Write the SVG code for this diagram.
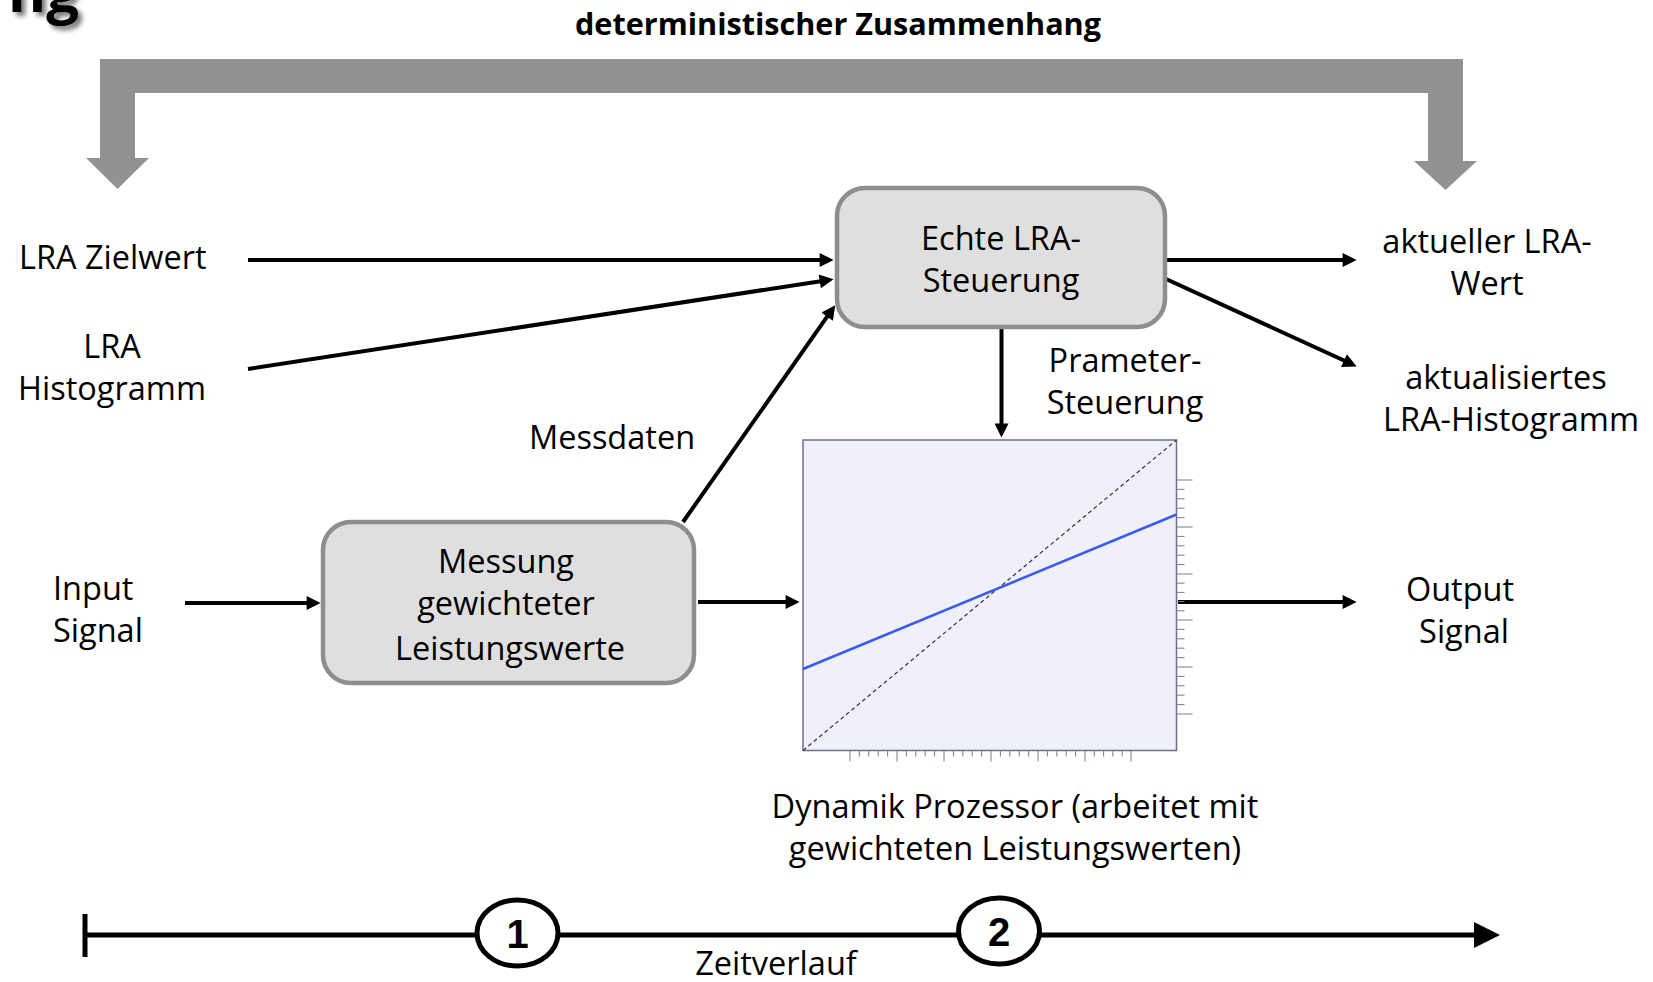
<svg xmlns="http://www.w3.org/2000/svg" width="1653" height="982" viewBox="0 0 1653 982">
<defs>
<style>
.t{font-family:"Open Sans","Noto Sans","DejaVu Sans",sans-serif;font-size:32.5px;fill:#000;text-anchor:middle}
.s{text-anchor:start}
.b{font-weight:bold}
.box{fill:#dfdfdf;stroke:#8e8e8e;stroke-width:4.5}
.c{stroke:#000;stroke-width:4;fill:none;marker-end:url(#ah)}
.tk{stroke:#7a7a9a;stroke-width:1}
.num{font-family:"Liberation Sans",Arial,sans-serif;font-weight:bold;font-size:40px;text-anchor:middle}
</style>
<marker id="ah" viewBox="0 0 10 10" refX="3" refY="5" markerUnits="userSpaceOnUse" markerWidth="16" markerHeight="14" orient="auto">
<path d="M0,0 L10,5 L0,10 z" fill="#000"/>
</marker>
<filter id="sh" x="-20%" y="-50%" width="150%" height="200%">
<feGaussianBlur in="SourceAlpha" stdDeviation="2.5"/>
<feOffset dx="4" dy="4" result="o"/>
<feComponentTransfer in="o" result="g"><feFuncA type="linear" slope="0.55"/></feComponentTransfer>
<feMerge><feMergeNode in="g"/><feMergeNode in="SourceGraphic"/></feMerge>
</filter>
</defs>
<rect width="1653" height="982" fill="#fff"/>

<g id="title-fragment">
<text x="79" y="12" class="t b" style="font-size:58px;text-anchor:end" filter="url(#sh)">ng</text>
</g>

<g id="deterministic">
<path d="M100,59 L1463,59 L1463,161 L1477,161 L1445.5,190 L1414,161 L1428,161 L1428,93 L135,93 L135,158 L149,158 L117.5,189 L86,158 L100,158 Z" fill="#929292"/>
<text x="838" y="35" class="t b" style="font-size:30.6px">deterministischer Zusammenhang</text>
</g>

<g id="connectors">
<line x1="248" y1="260" x2="823.8" y2="260" class="c"/>
<line x1="248" y1="369" x2="823.9" y2="280.7" class="c"/>
<line x1="683" y1="522" x2="829.6" y2="313.2" class="c"/>
<line x1="185" y1="603" x2="310.8" y2="603" class="c"/>
<line x1="698" y1="602" x2="789.8" y2="602" class="c"/>
<line x1="1001.5" y1="329" x2="1001.5" y2="427.8" class="c"/>
<line x1="1166" y1="260" x2="1346.8" y2="260" class="c"/>
<line x1="1166" y1="279" x2="1347.8" y2="362.3" class="c"/>
<line x1="1178" y1="602" x2="1346.8" y2="602" class="c"/>
</g>

<g id="lra-zielwert"><text x="19" y="269" class="t s">LRA Zielwert</text></g>
<g id="lra-histogramm"><text x="112" y="358" class="t">LRA</text><text x="112" y="400" class="t">Histogramm</text></g>
<g id="input-signal"><text x="53" y="600" class="t s">Input</text><text x="53" y="642" class="t s">Signal</text></g>
<g id="messdaten-label"><text x="612" y="449" class="t">Messdaten</text></g>

<g id="echte-lra-steuerung">
<rect x="837" y="188" width="328" height="139" rx="28" class="box"/>
<text x="1001" y="250" class="t">Echte LRA-</text>
<text x="1001" y="292" class="t">Steuerung</text>
</g>

<g id="messung">
<rect x="323" y="522" width="371" height="161" rx="28" class="box"/>
<text x="506" y="573" class="t">Messung</text>
<text x="506" y="615" class="t">gewichteter</text>
<text x="510" y="660" class="t">Leistungswerte</text>
</g>

<g id="parameter-label"><text x="1125" y="372" class="t">Prameter-</text><text x="1125" y="414" class="t">Steuerung</text></g>
<g id="aktueller-lra"><text x="1487" y="253" class="t">aktueller LRA-</text><text x="1487" y="295" class="t">Wert</text></g>
<g id="aktualisiertes"><text x="1506" y="389" class="t">aktualisiertes</text><text x="1511" y="431" class="t">LRA-Histogramm</text></g>
<g id="output-signal"><text x="1460" y="601" class="t">Output</text><text x="1464" y="643" class="t">Signal</text></g>

<g id="dynamik-prozessor">
<rect x="803" y="440" width="373.5" height="310.5" fill="#f0f0fb" stroke="#6e6e8e" stroke-width="1.5"/>
<line x1="803" y1="750.5" x2="1176.5" y2="440" stroke="#333" stroke-width="1.2" stroke-dasharray="4,3"/>
<line x1="803" y1="669" x2="1176.5" y2="514.5" stroke="#3a5af0" stroke-width="2.5"/>
<g class="tk">
<path d="M850,750.5v11 M897,750.5v11 M944,750.5v11 M991,750.5v11 M1038,750.5v11 M1085,750.5v11 M1131,750.5v11"/>
<path d="M859.4,750.5v6 M868.8,750.5v6 M878.2,750.5v6 M887.6,750.5v6 M906.4,750.5v6 M915.8,750.5v6 M925.2,750.5v6 M934.6,750.5v6 M953.4,750.5v6 M962.8,750.5v6 M972.2,750.5v6 M981.6,750.5v6 M1000.4,750.5v6 M1009.8,750.5v6 M1019.2,750.5v6 M1028.6,750.5v6 M1047.4,750.5v6 M1056.8,750.5v6 M1066.2,750.5v6 M1075.6,750.5v6 M1094.3,750.5v6 M1103.6,750.5v6 M1112.9,750.5v6 M1122.2,750.5v6"/>
<path d="M1176.5,480h16 M1176.5,527h16 M1176.5,574h16 M1176.5,620h16 M1176.5,667h16 M1176.5,714h16"/>
<path d="M1176.5,489.4h8 M1176.5,498.8h8 M1176.5,508.2h8 M1176.5,517.6h8 M1176.5,536.4h8 M1176.5,545.8h8 M1176.5,555.2h8 M1176.5,564.6h8 M1176.5,583.2h8 M1176.5,592.4h8 M1176.5,601.6h8 M1176.5,610.8h8 M1176.5,629.4h8 M1176.5,638.8h8 M1176.5,648.2h8 M1176.5,657.6h8 M1176.5,676.4h8 M1176.5,685.8h8 M1176.5,695.2h8 M1176.5,704.6h8"/>
</g>
<text x="1015" y="818" class="t">Dynamik Prozessor (arbeitet mit</text>
<text x="1015" y="860" class="t">gewichteten Leistungswerten)</text>
</g>

<g id="zeitverlauf">
<line x1="85" y1="914" x2="85" y2="957" stroke="#000" stroke-width="5"/>
<line x1="84" y1="935" x2="1476" y2="935" stroke="#000" stroke-width="5"/>
<path d="M1474,922 L1500,935 L1474,948 Z" fill="#000"/>
<text x="776" y="975" class="t">Zeitverlauf</text>
</g>
<g id="step-1">
<ellipse cx="517.5" cy="933" rx="40.5" ry="33" fill="#fff" stroke="#000" stroke-width="5"/>
<text x="517.5" y="948" class="num">1</text>
</g>
<g id="step-2">
<ellipse cx="999" cy="931" rx="40.5" ry="33" fill="#fff" stroke="#000" stroke-width="5"/>
<text x="999" y="946" class="num">2</text>
</g>
</svg>
